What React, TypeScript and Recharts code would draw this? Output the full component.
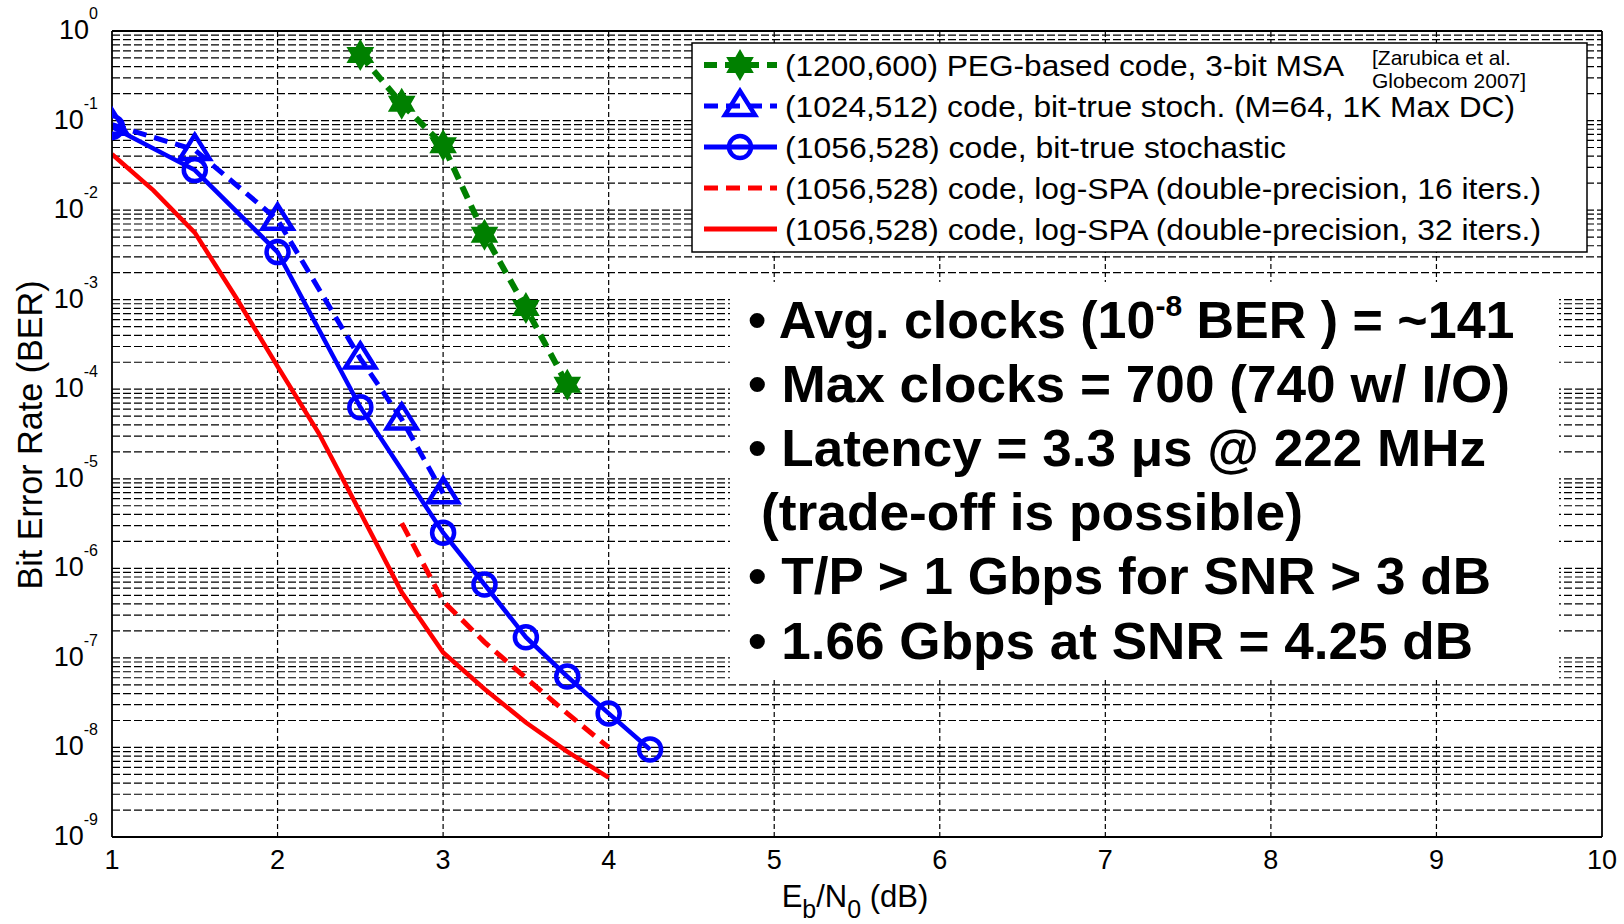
import React from "react";
import { LineChart, Line, XAxis, YAxis, ReferenceLine } from "recharts";

// Eb/N0 (dB) and BER
const snrPeg = [2.5, 2.75, 3, 3.25, 3.5, 3.75];
const berPeg = [0.54, 0.154, 0.053, 0.0053, 8.1e-4, 1.12e-4];

const snrStoch1024 = [1, 1.5, 2, 2.5, 2.75, 3];
const berStoch1024 = [0.09, 0.047, 0.0078, 2.2e-4, 4.6e-5, 6.9e-6];

const snrStoch1056 = [1, 1.5, 2, 2.5, 3, 3.25, 3.5, 3.75, 4, 4.25];
const berStoch1056 = [0.085, 0.028, 0.0034, 6.3e-5, 2.5e-6, 6.6e-7, 1.7e-7, 6.2e-8, 2.4e-8, 9.5e-9];

const snrSpa16 = [2.75, 3, 3.25, 3.5, 3.75, 4];
const berSpa16 = [3.2e-6, 4.3e-7, 1.5e-7, 6e-8, 2.4e-8, 1e-8];

const snrSpa32 = [1, 1.25, 1.5, 1.75, 2, 2.25, 2.5, 2.75, 3, 3.25, 3.5, 3.75, 4];
const berSpa32 = [0.042, 0.0166, 0.0056, 1.05e-3, 1.8e-4, 3.2e-5, 4.2e-6, 5.4e-7, 1.15e-7, 4.5e-8, 1.9e-8, 9e-9, 4.6e-9];

const xTicks = [1, 2, 3, 4, 5, 6, 7, 8, 9, 10];
const xGrid = [2, 3, 4, 5, 6, 7, 8, 9];
const yExponents = [-9, -8, -7, -6, -5, -4, -3, -2, -1, 0];
const minorSteps = [2, 3, 4, 5, 6, 7, 8, 9];

const legendLabels = [
  "(1200,600) PEG-based code, 3-bit MSA",
  "(1024,512) code, bit-true stoch. (M=64, 1K Max DC)",
  "(1056,528) code, bit-true stochastic",
  "(1056,528) code, log-SPA (double-precision, 16 iters.)",
  "(1056,528) code, log-SPA (double-precision, 32 iters.)",
];

const zip = (xs: number[], ys: number[]) => xs.map((snr, i) => ({ snr, ber: ys[i] }));

const GREEN = "#008000";
const BLUE = "#0000ff";
const RED = "#ff0000";
const FONT = "Liberation Sans, Arial, sans-serif";

const yTicks = yExponents.map((e) => Math.pow(10, e));
const yGrid: number[] = [];
yExponents.forEach((e) => {
  if (e < 0) {
    yGrid.push(Math.pow(10, e));
    minorSteps.forEach((m) => yGrid.push(m * Math.pow(10, e)));
  }
});

function starPath(cx: number, cy: number, R: number) {
  const r = R / Math.sqrt(3);
  let d = "";
  for (let k = 0; k < 12; k++) {
    const a = ((-90 + k * 30) * Math.PI) / 180;
    const rad = k % 2 === 0 ? R : r;
    d += (k === 0 ? "M" : "L") + (cx + rad * Math.cos(a)).toFixed(1) + "," + (cy + rad * Math.sin(a)).toFixed(1);
  }
  return d + "Z";
}

const Star = ({ cx, cy }: any) => <path d={starPath(cx, cy, 14)} fill={GREEN} stroke={GREEN} strokeWidth={2} />;
const Tri = ({ cx, cy }: any) => (
  <polygon
    points={`${cx},${cy - 15} ${cx - 15},${cy + 9} ${cx + 15},${cy + 9}`}
    fill="none"
    stroke={BLUE}
    strokeWidth={4.5}
  />
);
const Circ = ({ cx, cy }: any) => <circle cx={cx} cy={cy} r={11} fill="none" stroke={BLUE} strokeWidth={4.5} />;

const renderDot = (Shape: any) => (p: any) =>
  p.cx == null ? <g key={p.index} /> : <Shape key={p.index} cx={p.cx} cy={p.cy} />;

const YTick = ({ x, y, payload }: any) => {
  const e = Math.round(Math.log10(payload.value));
  return (
    <text x={x - 6} y={y + 8} textAnchor="end" fontFamily={FONT} fill="#000">
      <tspan fontSize={27}>10</tspan>
      <tspan fontSize={16} dy={-20}>
        {e}
      </tspan>
    </text>
  );
};

const XTick = ({ x, y, payload }: any) => (
  <text x={x} y={y + 24} textAnchor="middle" fontFamily={FONT} fontSize={27} fill="#000">
    {payload.value}
  </text>
);

const bulletLines = [
  { text: "• Max clocks = 700 (740 w/ I/O)", x: 748, y: 402, w: 762 },
  { text: "• Latency = 3.3 μs @ 222 MHz", x: 748, y: 466, w: 738 },
  { text: "(trade-off is possible)", x: 761, y: 530, w: 542 },
  { text: "• T/P > 1 Gbps for SNR > 3 dB", x: 748, y: 594, w: 743 },
  { text: "• 1.66 Gbps at SNR = 4.25 dB", x: 748, y: 659, w: 725 },
];

const legendWidths = [559, 730, 501, 756, 756];

function LegendSample({ i, y }: { i: number; y: number }) {
  const x1 = 704;
  const x2 = 777;
  const mx = 740;
  if (i === 0)
    return (
      <g>
        <line x1={x1} y1={y} x2={x2} y2={y} stroke={GREEN} strokeWidth={6} strokeDasharray="13 8" />
        <Star cx={mx} cy={y} />
      </g>
    );
  if (i === 1)
    return (
      <g>
        <line x1={x1} y1={y} x2={x2} y2={y} stroke={BLUE} strokeWidth={5} strokeDasharray="14 8" />
        <Tri cx={mx} cy={y} />
      </g>
    );
  if (i === 2)
    return (
      <g>
        <line x1={x1} y1={y} x2={x2} y2={y} stroke={BLUE} strokeWidth={5} />
        <Circ cx={mx} cy={y} />
      </g>
    );
  if (i === 3) return <line x1={x1} y1={y} x2={x2} y2={y} stroke={RED} strokeWidth={5} strokeDasharray="14 8" />;
  return <line x1={x1} y1={y} x2={x2} y2={y} stroke={RED} strokeWidth={5} />;
}

export default function App() {
  const rowY = [65, 106, 147, 188, 229];
  return (
    <div style={{ position: "absolute", left: 0, top: 0, width: 1624, height: 924, background: "#fff" }}>
      <LineChart width={1624} height={924} margin={{ top: 31, right: 22, left: 0, bottom: 0 }}>
        {xGrid.map((v) => (
          <ReferenceLine key={"gx" + v} x={v} stroke="#000" strokeWidth={1.2} strokeDasharray="5 3" />
        ))}
        {yGrid.map((v, i) => (
          <ReferenceLine key={"gy" + i} y={v} stroke="#000" strokeWidth={1.2} strokeDasharray="8 3" />
        ))}
        <XAxis
          dataKey="snr"
          type="number"
          domain={[1, 10]}
          ticks={xTicks}
          allowDataOverflow
          height={87}
          tick={<XTick />}
          tickLine={false}
          axisLine={{ stroke: "#000", strokeWidth: 1.8 }}
        />
        <YAxis
          dataKey="ber"
          type="number"
          scale="log"
          domain={[1e-9, 1]}
          ticks={yTicks}
          allowDataOverflow
          width={112}
          tick={<YTick />}
          tickLine={false}
          axisLine={{ stroke: "#000", strokeWidth: 1.8 }}
        />
        <ReferenceLine y={1} stroke="#000" strokeWidth={1.8} />
        <ReferenceLine x={10} stroke="#000" strokeWidth={1.8} />
        <Line
          data={zip(snrSpa32, berSpa32)}
          dataKey="ber"
          stroke={RED}
          strokeWidth={4.5}
          dot={false}
          isAnimationActive={false}
        />
        <Line
          data={zip(snrSpa16, berSpa16)}
          dataKey="ber"
          stroke={RED}
          strokeWidth={5}
          strokeDasharray="15 8"
          dot={false}
          isAnimationActive={false}
        />
        <Line
          data={zip(snrStoch1056, berStoch1056)}
          dataKey="ber"
          stroke={BLUE}
          strokeWidth={4.5}
          dot={renderDot(Circ)}
          isAnimationActive={false}
        />
        <Line
          data={zip(snrStoch1024, berStoch1024)}
          dataKey="ber"
          stroke={BLUE}
          strokeWidth={5}
          strokeDasharray="14 8"
          dot={renderDot(Tri)}
          isAnimationActive={false}
        />
        <Line
          data={zip(snrPeg, berPeg)}
          dataKey="ber"
          stroke={GREEN}
          strokeWidth={6}
          strokeDasharray="13 8"
          dot={renderDot(Star)}
          isAnimationActive={false}
        />
      </LineChart>
      <svg
        width={1624}
        height={924}
        style={{ position: "absolute", left: 0, top: 0, pointerEvents: "none" }}
        fontFamily={FONT}
      >
        {/* axis titles */}
        <text
          x={42}
          y={435}
          fontSize={35}
          textAnchor="middle"
          transform="rotate(-90 42 435)"
          textLength={309}
          lengthAdjust="spacingAndGlyphs"
        >
          Bit Error Rate (BER)
        </text>
        <text x={855} y={907} fontSize={31} textAnchor="middle">
          E<tspan fontSize={25} dy={11}>b</tspan>
          <tspan dy={-11}>/N</tspan>
          <tspan fontSize={25} dy={11}>0</tspan>
          <tspan dy={-11}> (dB)</tspan>
        </text>

        {/* legend */}
        <rect x={692} y={43} width={895} height={209} fill="#fff" stroke="#000" strokeWidth={1.5} />
        {legendLabels.map((lab, i) => (
          <g key={lab}>
            <LegendSample i={i} y={rowY[i]} />
            <text
              x={785}
              y={rowY[i] + 11}
              fontSize={30}
              textLength={legendWidths[i]}
              lengthAdjust="spacingAndGlyphs"
            >
              {lab}
            </text>
          </g>
        ))}
        <text x={1372} y={65} fontSize={21}>
          [Zarubica et al.
        </text>
        <text x={1372} y={88} fontSize={21}>
          Globecom 2007]
        </text>

        {/* notes box */}
        <rect x={730} y={282} width={829} height={398} fill="#fff" />
        <text x={748} y={338} fontSize={52} fontWeight="bold">
          • Avg. clocks (10
          <tspan fontSize={30} dy={-22}>
            -8
          </tspan>
          <tspan dy={22}> BER ) = ~141</tspan>
        </text>
        {bulletLines.map((l) => (
          <text
            key={l.text}
            x={l.x}
            y={l.y}
            fontSize={52}
            fontWeight="bold"
            textLength={l.w}
            lengthAdjust="spacingAndGlyphs"
          >
            {l.text}
          </text>
        ))}
      </svg>
    </div>
  );
}
